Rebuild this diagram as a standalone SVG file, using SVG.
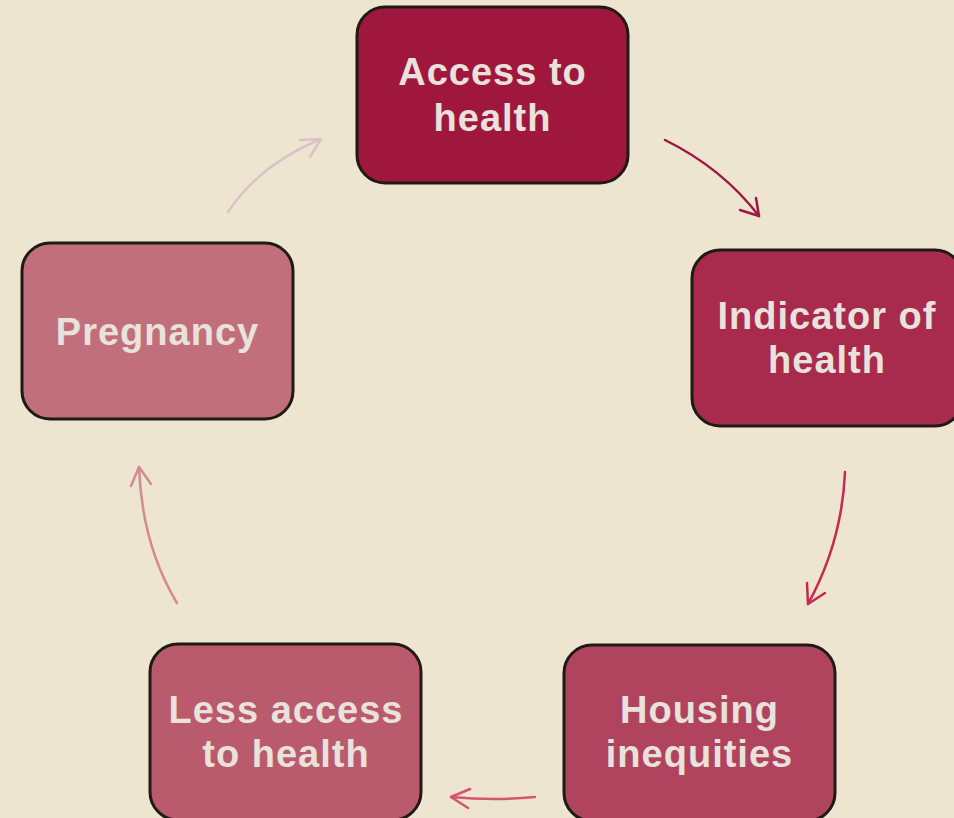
<svg xmlns="http://www.w3.org/2000/svg" width="954" height="818" viewBox="0 0 954 818">
<style>
.box{stroke:#1E1A14;stroke-width:3}
.lbl{font-family:"Liberation Sans",Arial,sans-serif;font-weight:bold;font-size:38px;fill:#E9E1DB;text-anchor:middle;letter-spacing:1px}
.conn path{fill:none;stroke-width:2.5;stroke-linecap:round;stroke-linejoin:round}
</style>
<rect width="954" height="818" fill="#EEE5D1"/>
<g id="access">
<rect class="box" x="357" y="7" width="271" height="176" rx="28" fill="#A0173D"/>
<text class="lbl" x="492.5" y="85">Access to</text>
<text class="lbl" x="492.5" y="131">health</text>
</g>
<g id="indicator">
<rect class="box" x="692" y="250" width="271" height="176" rx="28" fill="#A82A4D"/>
<text class="lbl" x="827" y="329">Indicator of</text>
<text class="lbl" x="827" y="373">health</text>
</g>
<g id="housing">
<rect class="box" x="564" y="645" width="271" height="176" rx="28" fill="#B0435E"/>
<text class="lbl" x="699.5" y="723">Housing</text>
<text class="lbl" x="699.5" y="767">inequities</text>
</g>
<g id="less">
<rect class="box" x="150" y="644" width="271" height="176" rx="28" fill="#B95A6D"/>
<text class="lbl" x="286" y="723">Less access</text>
<text class="lbl" x="286" y="767">to health</text>
</g>
<g id="pregnancy">
<rect class="box" x="22" y="243" width="271" height="176" rx="28" fill="#C1707B"/>
<text class="lbl" x="157.5" y="345">Pregnancy</text>
</g>
<g id="connectors" class="conn">
<path d="M665,140 Q722,168 759,216" stroke="#A0173D"/>
<path d="M740,210 L759,216 L756,198" stroke="#A0173D"/>
<path d="M845,472 Q842,542 808,604" stroke="#C8284F"/>
<path d="M807,583 L808,604 L825,593" stroke="#C8284F"/>
<path d="M535,797 Q495,801 451,797" stroke="#D55470"/>
<path d="M470,789 L451,797 L468,808" stroke="#D55470"/>
<path d="M177,603 Q142,545 139,467" stroke="#D38A92"/>
<path d="M131,486 L139,467 L151,484" stroke="#D38A92"/>
<path d="M228,212 Q259,165 321,139" stroke="#DCC2C8"/>
<path d="M300,140 L321,139 L310,157" stroke="#DCC2C8"/>
</g>
</svg>
